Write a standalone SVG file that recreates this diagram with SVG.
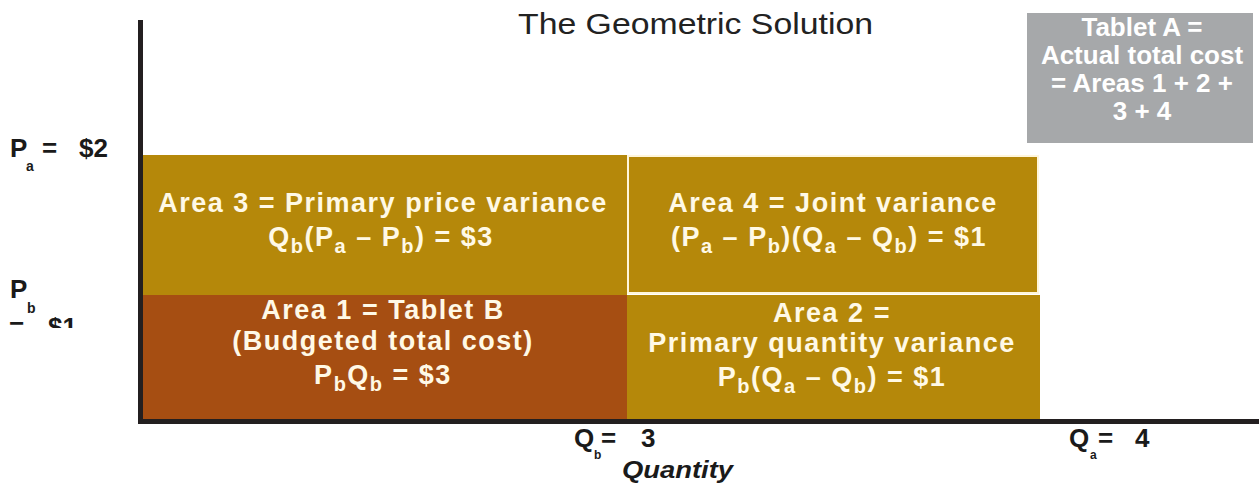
<svg xmlns="http://www.w3.org/2000/svg" width="1259" height="485" viewBox="0 0 1259 485">
  <defs>
    <style>
      .area-txt { font-family: "Liberation Sans", Arial, sans-serif; font-weight: bold; font-size: 27px; fill: #FFF9E6; text-anchor: middle; letter-spacing: 1.5px; }
      .sub { font-size: 20px; }
      .tab-txt { font-family: "Liberation Sans", Arial, sans-serif; font-weight: bold; font-size: 26px; fill: #FFFFFF; text-anchor: middle; }
      .lbl { font-family: "Liberation Sans", Arial, sans-serif; font-weight: bold; font-size: 26px; fill: #1A1A1A; }
      .lsub { font-size: 14px; }
      .bl { font-family: "Liberation Sans", Arial, sans-serif; font-weight: bold; font-size: 26px; fill: #1A1A1A; }
      .bsub { font-size: 12px; }
      .gold { fill: #B5880A; }
      .rust { fill: #A64E12; }
    </style>
    <clipPath id="clipPb">
      <rect x="0" y="300" width="130" height="28"/>
    </clipPath>
  </defs>
  <rect width="1259" height="485" fill="#FFFFFF"/>

  <text x="518" y="34" font-family="'Liberation Sans', Arial, sans-serif" font-size="29" fill="#222222" textLength="355" lengthAdjust="spacingAndGlyphs">The Geometric Solution</text>

  <g id="area3">
    <rect class="gold" x="143" y="155" width="484" height="140"/>
    <text class="area-txt" x="383" y="212">Area 3 = Primary price variance</text>
    <text class="area-txt" x="381" y="246">Q<tspan class="sub" dy="7">b</tspan><tspan dy="-7">(P</tspan><tspan class="sub" dy="7">a</tspan><tspan dy="-7"> – P</tspan><tspan class="sub" dy="7">b</tspan><tspan dy="-7">) = $3</tspan></text>
  </g>

  <g id="area4">
    <rect class="gold" x="628" y="156" width="410" height="137" stroke="#FFF6DC" stroke-width="2"/>
    <text class="area-txt" x="833" y="212">Area 4 = Joint variance</text>
    <text class="area-txt" x="829" y="246">(P<tspan class="sub" dy="7">a</tspan><tspan dy="-7"> – P</tspan><tspan class="sub" dy="7">b</tspan><tspan dy="-7">)(Q</tspan><tspan class="sub" dy="7">a</tspan><tspan dy="-7"> – Q</tspan><tspan class="sub" dy="7">b</tspan><tspan dy="-7">) = $1</tspan></text>
  </g>

  <g id="area1">
    <rect class="rust" x="143" y="295" width="484" height="124"/>
    <text class="area-txt" x="383" y="319">Area 1 = Tablet B</text>
    <text class="area-txt" x="383" y="350">(Budgeted total cost)</text>
    <text class="area-txt" x="383" y="384">P<tspan class="sub" dy="7">b</tspan><tspan dy="-7">Q</tspan><tspan class="sub" dy="7">b</tspan><tspan dy="-7"> = $3</tspan></text>
  </g>

  <g id="area2">
    <rect class="gold" x="627" y="295" width="413" height="124"/>
    <text class="area-txt" x="832" y="322">Area 2 =</text>
    <text class="area-txt" x="832" y="352">Primary quantity variance</text>
    <text class="area-txt" x="832" y="386">P<tspan class="sub" dy="7">b</tspan><tspan dy="-7">(Q</tspan><tspan class="sub" dy="7">a</tspan><tspan dy="-7"> – Q</tspan><tspan class="sub" dy="7">b</tspan><tspan dy="-7">) = $1</tspan></text>
  </g>

  <g id="tabletA">
    <rect x="1027" y="13" width="226" height="130" fill="#A6A8AA"/>
    <text class="tab-txt"><tspan x="1142" y="36">Tablet A =</tspan><tspan x="1142" y="64">Actual total cost</tspan><tspan x="1142" y="92">= Areas 1 + 2 +</tspan><tspan x="1142" y="120">3 + 4</tspan></text>
  </g>

  <g id="axes">
    <rect x="138" y="20" width="5" height="404" fill="#231F20"/>
    <rect x="138" y="419" width="1121" height="5" fill="#231F20"/>
  </g>

  <g id="price-labels">
    <text class="lbl" x="10" y="157">P</text>
    <text class="lbl lsub" x="26" y="171">a</text>
    <text class="lbl" x="42" y="157">=</text>
    <text class="lbl" x="79" y="157" font-size="28">$2</text>

    <text class="lbl" x="10" y="298">P</text>
    <text class="lbl lsub" x="27" y="313">b</text>
    <g clip-path="url(#clipPb)">
      <text class="lbl" x="9" y="336">=</text>
      <text class="lbl" x="48" y="336" font-size="28">$1</text>
    </g>
  </g>

  <g id="quantity-labels">
    <text class="bl" x="574" y="447">Q</text>
    <text class="bl bsub" x="594" y="459">b</text>
    <text class="bl" x="601" y="447">=</text>
    <text class="bl" x="641" y="447">3</text>

    <text class="bl" x="1069" y="447">Q</text>
    <text class="bl bsub" x="1090" y="459">a</text>
    <text class="bl" x="1098" y="447">=</text>
    <text class="bl" x="1135" y="447">4</text>

    <text x="622" y="478" font-family="'Liberation Sans', Arial, sans-serif" font-weight="bold" font-style="italic" font-size="24" fill="#1A1A1A" textLength="111" lengthAdjust="spacingAndGlyphs">Quantity</text>
  </g>
</svg>
